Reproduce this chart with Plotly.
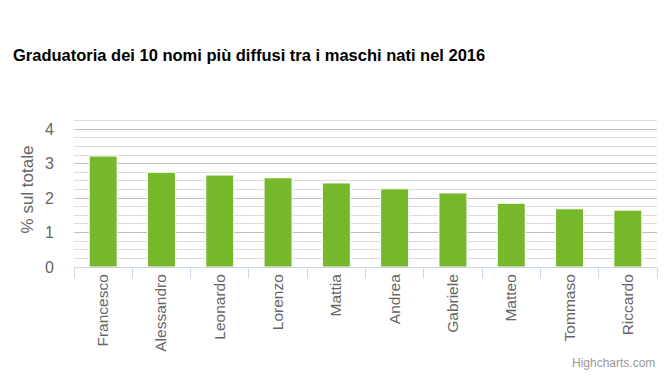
import plotly.graph_objects as go

categories = ["Francesco", "Alessandro", "Leonardo", "Lorenzo", "Mattia",
              "Andrea", "Gabriele", "Matteo", "Tommaso", "Riccardo"]
values = [3.22, 2.75, 2.67, 2.59, 2.44, 2.27, 2.15, 1.85, 1.69, 1.65]
y_ticks = [0, 1, 2, 3, 4]

FONT = "Liberation Sans, Arial, sans-serif"

PLOT_TOP, PLOT_BOTTOM = 112, 267
PLOT_H = PLOT_BOTTOM - PLOT_TOP

fig = go.Figure(go.Bar(
    x=categories, y=values,
    marker=dict(color="#76b82a", line=dict(color="white", width=1)),
    width=0.48,
))

fig.update_layout(
    width=670, height=375,
    paper_bgcolor="white", plot_bgcolor="white",
    margin=dict(l=74, r=13, t=PLOT_TOP, b=375 - PLOT_BOTTOM, autoexpand=False),
    showlegend=False,
    font=dict(family=FONT, color="#666666"),
    title=dict(
        text="<b>Graduatoria dei 10 nomi più diffusi tra i maschi nati nel 2016</b>",
        x=13 / 670, xanchor="left", xref="container",
        y=1 - 55 / 375, yanchor="middle", yref="container",
        font=dict(family=FONT, size=16.5, color="#000000"),
    ),
    annotations=[dict(
        text="Highcharts.com", xref="paper", yref="paper",
        x=1, xanchor="right", y=-(363 - PLOT_BOTTOM) / PLOT_H, yanchor="middle",
        showarrow=False, font=dict(family=FONT, size=12, color="#999999"),
    )],
)

fig.update_xaxes(
    type="category",
    automargin=False,
    tickson="boundaries",
    ticks="outside", ticklen=10, tickcolor="#ccd6eb", tickwidth=1,
    showline=True, linecolor="#ccd6eb", linewidth=1,
    tickangle=-90,
    tickfont=dict(family=FONT, size=15.5, color="#666666"),
    showgrid=False,
)

fig.update_yaxes(
    automargin=False,
    range=[0, 4.5],
    tickvals=y_ticks,
    ticktext=[str(v) for v in y_ticks],
    tickfont=dict(family=FONT, size=16, color="#666666"),
    showgrid=True, gridcolor="#bdbdbd", gridwidth=1,
    minor=dict(dtick=0.25, showgrid=True, gridcolor="#dcdcdc", gridwidth=1),
    zeroline=False,
    ticks="", ticklabelstandoff=19,
    title=dict(text="% sul totale", font=dict(family=FONT, size=17, color="#666666"), standoff=7),
)

fig.write_html("out.html", config={"displayModeBar": False},
               post_script="document.body.style.margin='0px';")
